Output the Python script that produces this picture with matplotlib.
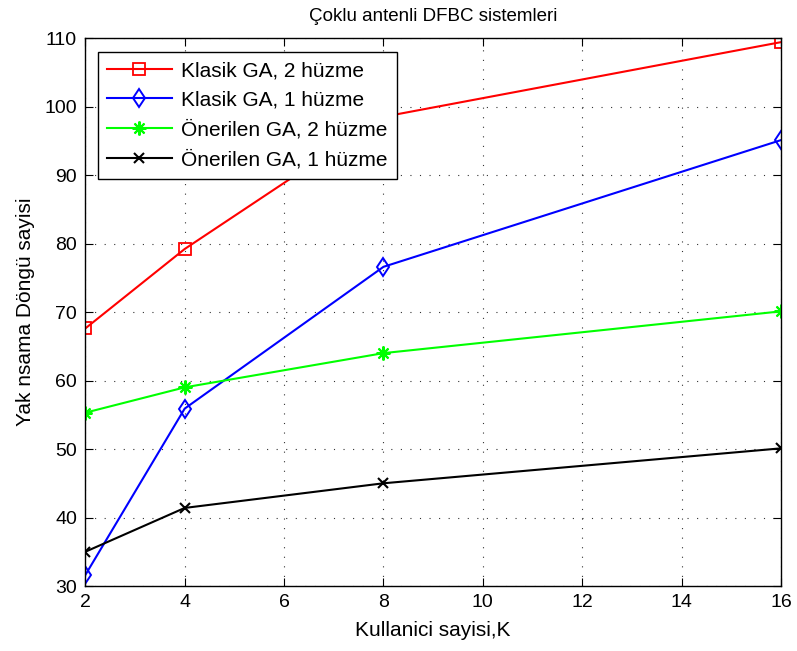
import numpy as np
import matplotlib.pyplot as plt

plt.rcParams['font.family'] = ['Liberation Sans', 'DejaVu Sans']

# user counts and loop counts for each method
kullanici = [2, 4, 8, 16]
klasik_2 = [67.6, 79.2, 98.5, 109.4]
klasik_1 = [31.6, 55.9, 76.6, 95.1]
onerilen_2 = [55.3, 59.0, 64.0, 70.1]
onerilen_1 = [35.0, 41.4, 45.0, 50.1]

x_ticks = [2, 4, 6, 8, 10, 12, 14, 16]
y_ticks = [30, 40, 50, 60, 70, 80, 90, 100, 110]

fig = plt.figure(figsize=(7.97, 6.51), dpi=100)
ax = fig.add_axes([0.107, 0.0998, 0.873, 0.8418])

ax.plot(kullanici, klasik_2, color='#ff0000', marker='s', markersize=9,
        markerfacecolor='none', markeredgewidth=1.3, linewidth=1.5,
        label='Klasik GA, 2 hüzme')
ax.plot(kullanici, klasik_1, color='#0000ff', marker='d', markersize=9.5,
        markerfacecolor='none', markeredgewidth=1.4, linewidth=1.5,
        label='Klasik GA, 1 hüzme')
ax.plot(kullanici, onerilen_2, color='#00ff00', marker=(8, 2, 0), markersize=10,
        markeredgewidth=1.5, linewidth=1.5, label='Önerilen GA, 2 hüzme')
ax.plot(kullanici, onerilen_1, color='#000000', marker='x', markersize=7,
        markeredgewidth=1.5, linewidth=1.5, label='Önerilen GA, 1 hüzme')

ax.set_xlim(2, 16)
ax.set_ylim(30, 110)
ax.set_xticks(x_ticks)
ax.set_yticks(y_ticks)
ax.grid(True, color='black', linestyle=(0, (1, 7.6)), linewidth=0.8, alpha=0.8)
ax.tick_params(direction='in', top=True, right=True, labelsize=14, length=6,
               pad=6)
for s in ax.spines.values():
    s.set_linewidth(1.0)

ax.set_title('Çoklu antenli DFBC sistemleri', fontsize=13.5, pad=12)
ax.set_xlabel('Kullanici sayisi,K', fontsize=15, labelpad=7)
ax.set_ylabel('Yak nsama Döngü sayisi', fontsize=15, labelpad=7)

leg = ax.legend(loc='upper left', bbox_to_anchor=(0.018, 0.9745), fontsize=15,
                fancybox=False, framealpha=1, edgecolor='black',
                borderaxespad=0, handlelength=3.1, borderpad=0.45,
                labelspacing=0.5, handletextpad=0.45)
leg.get_frame().set_linewidth(1.0)

fig.savefig('out.png', dpi=100)
